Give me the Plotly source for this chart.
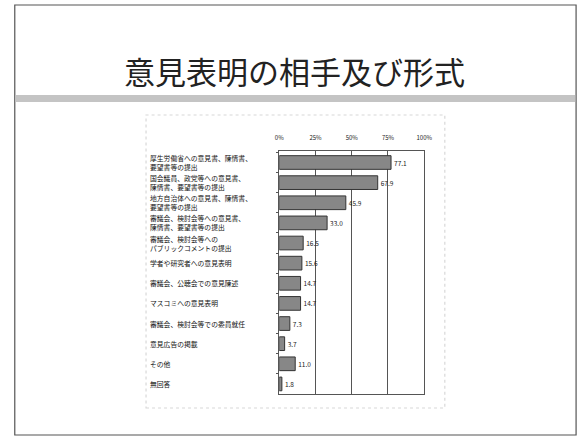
import plotly.graph_objects as go

categories = [
    "厚生労働省への意見書、陳情書、<br>要望書等の提出",
    "国会議員、政党等への意見書、<br>陳情書、要望書等の提出",
    "地方自治体への意見書、陳情書、<br>要望書等の提出",
    "審議会、検討会等への意見書、<br>陳情書、要望書等の提出",
    "審議会、検討会等への<br>パブリックコメントの提出",
    "学者や研究者への意見表明",
    "審議会、公聴会での意見陳述",
    "マスコミへの意見表明",
    "審議会、検討会等での委員就任",
    "意見広告の掲載",
    "その他",
    "無回答",
]
values = [77.1, 67.9, 45.9, 33.0, 16.5, 15.6, 14.7, 14.7, 7.3, 3.7, 11.0, 1.8]
tick_values = [0, 25, 50, 75, 100]
tick_labels = ["0%", "25%", "50%", "75%", "100%"]
title_text = "意見表明の相手及び形式"

W, H = 588, 439
FONT = "Noto Sans CJK JP"

def px(x):
    return x / W

def py(y):
    return 1 - y / H

fig = go.Figure()
fig.add_trace(go.Bar(
    y=categories,
    x=values,
    orientation="h",
    marker=dict(color="#878787", line=dict(color="#333333", width=1)),
    text=[f"{v:.1f}" for v in values],
    textposition="outside",
    textfont=dict(size=6.5, color="#222222", family=FONT),
    cliponaxis=False,
    width=0.68,
))

for c in categories:
    fig.add_annotation(
        x=px(147), xref="paper", y=c, yref="y",
        text=c, showarrow=False, xanchor="left", yanchor="middle",
        align="left", font=dict(size=6.8, color="#111111", family=FONT),
    )

shapes = [
    dict(type="rect", xref="paper", yref="paper", x0=px(11), x1=px(584), y0=py(435), y1=py(5),
         line=dict(color="#555555", width=1.2), fillcolor="rgba(0,0,0,0)", layer="below"),
    dict(type="rect", xref="paper", yref="paper", x0=px(12), x1=px(583), y0=py(102), y1=py(95),
         line=dict(width=0), fillcolor="#c4c4c4", layer="below"),
    dict(type="rect", xref="paper", yref="paper", x0=px(145), x1=px(450), y0=py(408), y1=py(115),
         line=dict(color="#d8d8d8", width=1.2, dash="dot"), fillcolor="rgba(0,0,0,0)", layer="below"),
]

fig.add_annotation(
    x=px(297), xref="paper", y=py(71), yref="paper", text=title_text, showarrow=False,
    xanchor="center", yanchor="middle", font=dict(size=31, color="#222222", family=FONT),
)

fig.update_layout(
    width=W, height=H,
    margin=dict(l=0, r=0, t=0, b=0),
    paper_bgcolor="white", plot_bgcolor="white",
    showlegend=False,
    shapes=shapes,
    bargap=0.32,
    xaxis=dict(
        domain=[px(281), px(429)], range=[0, 100], side="top",
        tickvals=tick_values, ticktext=tick_labels,
        tickfont=dict(size=6, color="#222222", family=FONT),
        showgrid=True, gridcolor="#555555", gridwidth=1,
        showline=True, linecolor="#555555", linewidth=1, mirror=True,
        ticks="outside", ticklen=8, tickcolor="rgba(0,0,0,0)",
        zeroline=False, fixedrange=True,
    ),
    yaxis=dict(
        domain=[py(394), py(151)], autorange="reversed",
        showticklabels=False, ticks="outside", ticklen=2, tickcolor="#555555",
        tickson="boundaries",
        showline=True, linecolor="#555555", linewidth=1, mirror=True,
        showgrid=False, fixedrange=True,
    ),
)

fig.write_html(
    "out.html",
    config={"displayModeBar": False},
    post_script="document.body.style.margin='0';document.body.style.overflow='hidden';",
)
